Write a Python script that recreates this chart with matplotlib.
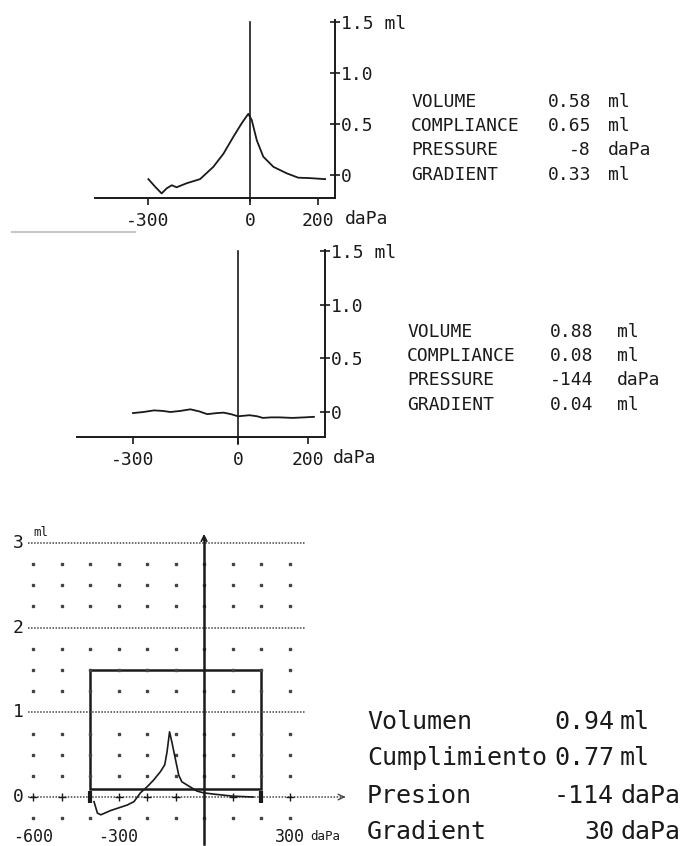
import matplotlib
matplotlib.use("Agg")
import matplotlib.pyplot as plt
from matplotlib.patches import Rectangle

# ---------------- data ----------------
# Panel 1 (normal tympanogram)
p1_pressure = [-299, -279, -260, -245, -230, -216, -186, -147, -108, -78, -49, -24, -5,
               5, 20, 39, 69, 108, 142, 176, 221]
p1_volume = [-0.04, -0.115, -0.18, -0.13, -0.10, -0.12, -0.08, -0.04, 0.08, 0.21, 0.375,
             0.51, 0.60, 0.54, 0.34, 0.18, 0.08, 0.017, -0.026, -0.03, -0.04]
p1_labels = ["VOLUME", "COMPLIANCE", "PRESSURE", "GRADIENT"]
p1_values = ["0.58", "0.65", "-8", "0.33"]
p1_units = ["ml", "ml", "daPa", "ml"]

# Panel 2 (flat tympanogram)
p2_pressure = [-300, -270, -240, -215, -193, -165, -136, -110, -88, -60, -41, -20, 0,
               33, 55, 71, 95, 118, 156, 190, 217]
p2_volume = [-0.01, 0.0, 0.015, 0.01, 0.0, 0.01, 0.025, 0.005, -0.02, -0.01, -0.006,
             -0.02, -0.04, -0.03, -0.04, -0.055, -0.05, -0.05, -0.055, -0.05, -0.045]
p2_labels = ["VOLUME", "COMPLIANCE", "PRESSURE", "GRADIENT"]
p2_values = ["0.88", "0.08", "-144", "0.04"]
p2_units = ["ml", "ml", "daPa", "ml"]

# Panel 3 (Spanish printout)
p3_pressure = [-386, -374, -362, -328, -269, -246, -223, -200, -177, -153, -138, -130,
               -121, -113, -101, -89, -78, -49, -25, -2, 32, 102, 172]
p3_volume = [-0.055, -0.19, -0.21, -0.16, -0.094, -0.055, 0.05, 0.12, 0.20, 0.30, 0.38,
             0.53, 0.77, 0.65, 0.455, 0.26, 0.18, 0.12, 0.07, 0.05, 0.035, 0.01, 0.0]
p3_labels = ["Volumen", "Cumplimiento", "Presion", "Gradient"]
p3_values = ["0.94", "0.77", "-114", "30"]
p3_units = ["ml", "ml", "daPa", "daPa"]
p3_box = (-400, 0.1, 200, 1.5)   # normal region (pressure from/to, volume from/to)

# ---------------- figure ----------------
W, H = 700, 846
fig = plt.figure(figsize=(7, 8.46), dpi=100)
MONO = "DejaVu Sans Mono"
INK = "#1a1a1a"


def px_axes(x0, y0, x1, y1):
    return fig.add_axes([x0 / W, 1 - y1 / H, (x1 - x0) / W, (y1 - y0) / H])


def ftext(x, y, s, **kw):
    kw.setdefault("family", MONO)
    kw.setdefault("color", INK)
    kw.setdefault("va", "center")
    fig.text(x / W, 1 - y / H, s, **kw)


def stats(labels, values, units, x_lab, x_val, x_unit, ys, size, **kw):
    for lab, val, unit, y in zip(labels, values, units, ys):
        ftext(x_lab, y, lab, fontsize=size, **kw)
        ftext(x_val, y, val, fontsize=size, ha="right", **kw)
        ftext(x_unit, y, unit, fontsize=size, **kw)


def tymp_axes(box, xlim, ylim, px, vol, vline_bottom):
    ax = px_axes(*box)
    ax.set_xlim(*xlim)
    ax.set_ylim(*ylim)
    ax.patch.set_alpha(0)
    for s in ("left", "top"):
        ax.spines[s].set_visible(False)
    for s in ("right", "bottom"):
        ax.spines[s].set_linewidth(1.4)
        ax.spines[s].set_color(INK)
    ax.yaxis.tick_right()
    ax.set_yticks([0, 0.5, 1.0, 1.5])
    ax.set_yticklabels(["0", "0.5", "1.0", "1.5 ml"], family=MONO, fontsize=13, color=INK)
    ax.tick_params(axis="y", direction="inout", length=7, width=1.2, pad=1, colors=INK)
    ax.set_xticks([-300, 0, 200])
    ax.set_xticklabels(["-300", "0", "200"], family=MONO, fontsize=13, color=INK)
    ax.tick_params(axis="x", direction="out", length=5, width=1.2, pad=5, colors=INK)
    ax.plot([0, 0], [vline_bottom, 1.5], color=INK, lw=1.2, clip_on=False)
    ax.plot(px, vol, color=INK, lw=1.3, clip_on=False)
    return ax


# Panel 1
tymp_axes((95, 20, 335, 198), (-456, 250), (-0.225, 1.52), p1_pressure, p1_volume, -0.25)
ftext(345, 219, "daPa", fontsize=13)
stats(p1_labels, p1_values, p1_units, 411, 591, 608, [102, 126, 150, 175], 13)

# scan artefact line below panel 1
fig.add_artist(plt.Line2D([12 / W, 135 / W], [1 - 232 / H, 1 - 232 / H],
                          color="#c8c8c8", lw=1.5))

# Panel 2
tymp_axes((77, 250, 325, 437), (-460, 248.6), (-0.233, 1.51), p2_pressure, p2_volume, -0.3)
ftext(333, 458, "daPa", fontsize=13)
stats(p2_labels, p2_values, p2_units, 407, 593, 617, [332, 356, 380, 405], 13)

# Panel 3
ax3 = px_axes(28, 533, 305, 843)
ax3.set_xlim(-617.5, 354)
ax3.set_ylim(-0.543, 3.118)
ax3.axis("off")
ax3.patch.set_alpha(0)

DOT = "#444444"
# dotted grid lines at 1, 2, 3 ml
for yv in (1, 2, 3):
    ax3.plot([-617.5, 354], [yv, yv], color=DOT, lw=1.1, ls=(0, (1, 1)), clip_on=False)
# zero line with arrow
ax3.plot([-617.5, 490], [0, 0], color=DOT, lw=1.1, ls=(0, (1, 1)), clip_on=False)
ax3.annotate("", xy=(505, 0), xytext=(480, 0), annotation_clip=False,
             arrowprops=dict(arrowstyle="->", color=DOT, lw=1.0))
# dot grid
cols = list(range(-600, 301, 100))
rows = [-0.25, 0.25, 0.5, 0.75, 1.25, 1.5, 1.75, 2.25, 2.5, 2.75]
for r in rows:
    ax3.plot(cols, [r] * len(cols), ls="none", marker="s", ms=1.8, color=DOT, clip_on=False)
# '+' marks on zero line
plus_cols = [c for c in cols if c not in (-400, 0, 200)]
ax3.plot(plus_cols, [0] * len(plus_cols), ls="none", marker="+", ms=6, mew=1.0,
         color=INK, clip_on=False)
# normal-range box and its end marks
bx0, by0, bx1, by1 = p3_box
ax3.add_patch(Rectangle((bx0, by0), bx1 - bx0, by1 - by0, fill=False, ec=INK, lw=1.8))
for bx in (bx0, bx1):
    ax3.plot([bx, bx], [-0.07, 0.07], color=INK, lw=3, solid_capstyle="butt")
# vertical pressure-zero axis with arrow
ax3.plot([0, 0], [-0.55, 3.05], color=INK, lw=1.8, clip_on=False)
ax3.annotate("", xy=(0, 3.14), xytext=(0, 3.0), annotation_clip=False,
             arrowprops=dict(arrowstyle="->", color=INK, lw=1.2))
# curve
ax3.plot(p3_pressure, p3_volume, color=INK, lw=1.2, clip_on=False)

# panel 3 axis labels
for yv, lab in zip((3, 2, 1, 0), ("3", "2", "1", "0")):
    ypx = 797 - yv * 84.67
    ftext(18, ypx, lab, fontsize=13, ha="center")
ftext(33, 532, "ml", fontsize=9)
for xv, lab in zip((-600, -300, 300), ("-600", "-300", "300")):
    xpx = 204 + xv * 0.285
    ftext(xpx, 837, lab, fontsize=12, ha="center")
ftext(310, 836, "daPa", fontsize=9)

stats(p3_labels, p3_values, p3_units, 367, 614, 620, [722, 758, 796, 832], 18)

fig.savefig("out.png", dpi=100, facecolor="white")
